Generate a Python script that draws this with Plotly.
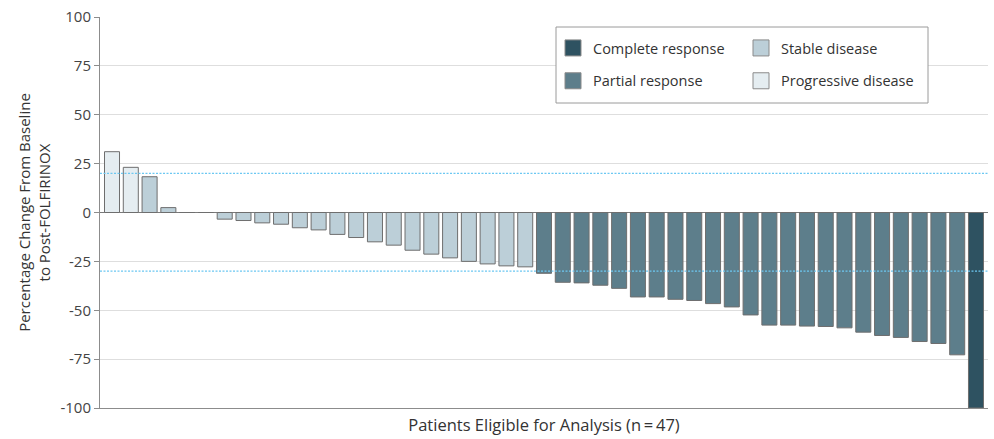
import plotly.graph_objects as go

# ---- data ----
patients = list(range(1, 48))
pct_change = [31.1, 23.1, 18.3, 2.5, 0.0, 0.0,
              -3.4, -4.1, -5.3, -6.0, -7.8, -8.9, -11.2, -12.8, -15.0, -16.7,
              -19.3, -21.3, -23.2, -25.0, -26.3, -27.3, -27.8,
              -31.1, -35.7, -36.0, -37.2, -38.8, -43.2, -43.2, -44.4, -45.0,
              -46.6, -48.3, -52.4, -57.6, -57.6, -58.1, -58.3, -59.0, -61.2,
              -62.9, -63.9, -66.0, -67.0, -72.8,
              -100.0]
response = (["Progressive disease"] * 2 + ["Stable disease"] * 4 +
            ["Stable disease"] * 17 + ["Partial response"] * 23 +
            ["Complete response"])
categories = ["Complete response", "Partial response", "Stable disease", "Progressive disease"]
cat_colors = {"Complete response": "#2e5261",
              "Partial response": "#5d7e8b",
              "Stable disease": "#bccfd8",
              "Progressive disease": "#e5edf1"}
thresholds = [20, -30]
y_ticks = [-100, -75, -50, -25, 0, 25, 50, 75, 100]
y_tick_labels = ["-100", "-75", "-50", "-25", "0", "25", "50", "75", "100"]

FONT = "Open Sans, Noto Sans, sans-serif"
W, H = 994, 439
ML, MR, MT, MB = 100, 6, 17, 31
PW, PH = W - ML - MR, H - MT - MB

fig = go.Figure()
for c in categories:
    xs = [p for p, r in zip(patients, response) if r == c]
    ys = [v for v, r in zip(pct_change, response) if r == c]
    fig.add_trace(go.Bar(x=xs, y=ys, name=c, width=0.8,
                         marker=dict(color=cat_colors[c], line=dict(color="#6e6e6e", width=1)),
                         showlegend=False))

legend_of = {"Complete response": "legend", "Partial response": "legend",
             "Stable disease": "legend2", "Progressive disease": "legend2"}
for c in categories:
    fig.add_trace(go.Scatter(x=[None], y=[None], mode="markers", name=c,
                             legendgroup=c, legend=legend_of[c],
                             marker=dict(symbol="square", size=16, color=cat_colors[c],
                                         line=dict(color="#8a8a8a", width=1))))

for t in thresholds:
    fig.add_shape(type="line", xref="paper", x0=0, x1=1, yref="y", y0=t, y1=t,
                  line=dict(color="#6cc8f2", width=1.1, dash="2px,1.5px"), layer="above")


def px_x(x):
    return (x - ML) / PW


def px_y(y):
    return (H - MB - y) / PH


# legend frame
fig.add_shape(type="rect", xref="paper", yref="paper",
              x0=px_x(556), x1=px_x(928), y0=px_y(103), y1=px_y(27),
              fillcolor="white", line=dict(color="#9a9a9a", width=1), layer="above")

leg_common = dict(bgcolor="rgba(0,0,0,0)", borderwidth=0, itemwidth=30,
                  font=dict(family=FONT, size=14.5, color="#333333"),
                  traceorder="grouped", tracegroupgap=11, yanchor="top", xanchor="left",
                  itemclick=False, itemdoubleclick=False)
fig.update_layout(
    width=W, height=H,
    margin=dict(l=ML, r=MR, t=MT, b=MB),
    paper_bgcolor="white", plot_bgcolor="white",
    font=dict(family=FONT, size=15, color="#333333"),
    legend=dict(x=px_x(553), y=px_y(32), **leg_common),
    legend2=dict(x=px_x(741), y=px_y(32), **leg_common),
    xaxis=dict(range=[0.36, 47.64], showticklabels=False, ticks="", showgrid=False,
               zeroline=False, showline=True, linecolor="#8c8c8c", linewidth=1,
               title=dict(text="Patients Eligible for Analysis (n\u2009=\u200947)", standoff=11,
                          font=dict(family=FONT, size=16.5, color="#333333"))),
    yaxis=dict(range=[-100, 100], tickvals=y_ticks, ticktext=y_tick_labels,
               ticks="outside", ticklen=5,
               tickcolor="#8c8c8c", showline=True, linecolor="#8c8c8c", linewidth=1,
               showgrid=True, gridcolor="#dedede", gridwidth=1,
               zeroline=True, zerolinecolor="#7a7a7a", zerolinewidth=1,
               tickfont=dict(family=FONT, size=15, color="#444444"),
               title=dict(text="Percentage Change From Baseline<br>to Post-FOLFIRINOX",
                          standoff=6, font=dict(family=FONT, size=15, color="#333333"))),
)

fig.write_html("out.html")
